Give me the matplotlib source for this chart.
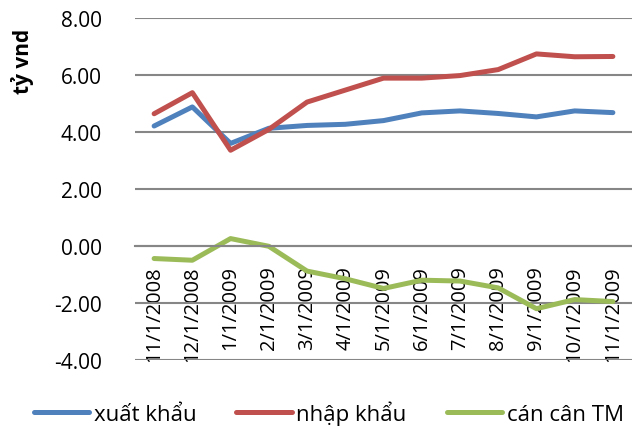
import matplotlib.pyplot as plt
import numpy as np

plt.rcParams['font.family'] = ['Open Sans', 'DejaVu Sans']

# dữ liệu
thang = ['11/1/2008', '12/1/2008', '1/1/2009', '2/1/2009', '3/1/2009', '4/1/2009',
         '5/1/2009', '6/1/2009', '7/1/2009', '8/1/2009', '9/1/2009', '10/1/2009', '11/1/2009']
xuat_khau = [4.21, 4.88, 3.60, 4.13, 4.23, 4.27, 4.40, 4.67, 4.74, 4.65, 4.53, 4.74, 4.68]
nhap_khau = [4.64, 5.38, 3.36, 4.09, 5.05, 5.47, 5.89, 5.89, 5.98, 6.19, 6.74, 6.64, 6.65]
can_can = [-0.44, -0.50, 0.26, -0.01, -0.88, -1.15, -1.49, -1.20, -1.23, -1.47, -2.20, -1.88, -1.95]
yticks = [-4, -2, 0, 2, 4, 6, 8]

x = np.arange(len(thang))

fig = plt.figure(figsize=(6.32, 4.27), dpi=100)
ax = fig.add_axes([0.2136, 0.1546, 0.7864, 0.8009])

ax.plot(x, xuat_khau, color='#4F81BD', lw=3.6, label='xuất khẩu', solid_capstyle='round')
ax.plot(x, nhap_khau, color='#C0504D', lw=3.6, label='nhập khẩu', solid_capstyle='round')
ax.plot(x, can_can, color='#9BBB59', lw=3.6, label='cán cân TM', solid_capstyle='round')

ax.set_xlim(-0.5, len(thang) - 0.5)
ax.set_ylim(-4, 8)
ax.set_yticks(yticks)
ax.set_yticklabels(['%.2f' % v for v in yticks])
ax.set_xticks(x)
ax.set_xticklabels(thang)
ax.tick_params(axis='y', length=0, pad=24, labelsize=15)
ax.tick_params(axis='x', length=0, pad=14, labelsize=14.5, labelrotation=90)
for lbl in ax.get_xticklabels():
    lbl.set_va('top')

ax.grid(axis='y', color='#868686', lw=1.5)
ax.set_axisbelow(True)
for s in ['top', 'right', 'left']:
    ax.spines[s].set_visible(False)
ax.spines['bottom'].set_position(('data', 0))
ax.spines['bottom'].set_color('#868686')
ax.spines['bottom'].set_linewidth(1.5)

fig.text(0.035, 0.855, 'tỷ vnd', rotation=90, ha='center', va='center',
         fontsize=15, fontweight='bold')

fig.legend(loc='lower center', bbox_to_anchor=(0.52, -0.045), ncol=3, frameon=False,
           fontsize=16, handlelength=2.5, handletextpad=0.2, columnspacing=1.8)

fig.savefig('out.png', dpi=100)
